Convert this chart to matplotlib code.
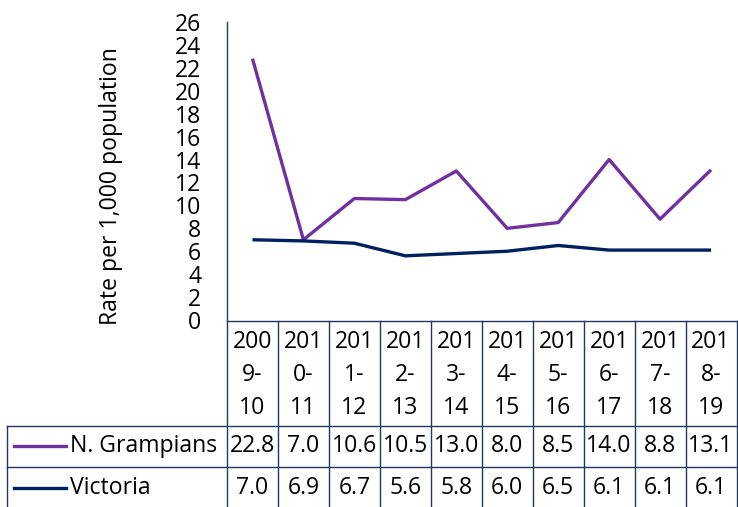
import matplotlib
matplotlib.use("Agg")
from matplotlib import pyplot as plt

# 数据
periods = ["2009-10", "2010-11", "2011-12", "2012-13", "2013-14",
           "2014-15", "2015-16", "2016-17", "2017-18", "2018-19"]
grampians = [22.8, 7.0, 10.6, 10.5, 13.0, 8.0, 8.5, 14.0, 8.8, 13.1]
victoria = [7.0, 6.9, 6.7, 5.6, 5.8, 6.0, 6.5, 6.1, 6.1, 6.1]
series_names = ["N. Grampians", "Victoria"]
y_ticks = list(range(0, 27, 2))

plt.rcParams['font.family'] = ['Open Sans', 'DejaVu Sans']

purple = '#7030A0'
navy = '#002060'
border = '#1F3864'
fs = 16.6

W, H = 738, 507
fig = plt.figure(figsize=(W / 100, H / 100), dpi=100)

# 折线图区域
x0, x1, ytop, ybot = 227, 736.5, 22, 320
ax = fig.add_axes([x0 / W, 1 - ybot / H, (x1 - x0) / W, (ybot - ytop) / H])
xs = list(range(len(periods)))
ax.plot(xs, grampians, color=purple, lw=2.4, solid_capstyle='butt')
ax.plot(xs, victoria, color=navy, lw=2.4, solid_capstyle='butt')
ax.set_xlim(-0.5, len(periods) - 0.5)
ax.set_ylim(0, 26)
ax.set_yticks(y_ticks)
ax.set_yticklabels([str(t) for t in y_ticks], fontsize=fs)
ax.tick_params(axis='y', length=0, pad=18.5)
ax.set_xticks([])
for s in ['top', 'right', 'bottom']:
    ax.spines[s].set_visible(False)
ax.spines['left'].set_color(border)
ax.spines['left'].set_linewidth(1)
ax.set_ylabel("Rate per 1,000 population", fontsize=fs)
ax.yaxis.set_label_coords(-0.204, 0.45)

# 数据表
tb = fig.add_axes([0, 0, 1, 1])
tb.set_xlim(0, W)
tb.set_ylim(H, 0)
tb.axis('off')
n = len(periods)
colw = (x1 - x0) / n
r0, r1, r2, r3 = 321, 426, 467, 507
lk = dict(color=border, lw=1)
tb.plot([x0, x1], [r0, r0], **lk)
tb.plot([7, x1], [r1, r1], **lk)
tb.plot([7, x1], [r2, r2], **lk)
tb.plot([7, 7], [r1, r3], **lk)
for i in range(n + 1):
    xc = x0 + i * colw
    tb.plot([xc, xc], [r0, r3], **lk)

for i, p in enumerate(periods):
    xc = x0 + (i + 0.5) * colw
    for j, part in enumerate([p[:3], p[3:5], p[5:]]):
        tb.text(xc, 342 + j * 33, part, ha='center', va='center', fontsize=fs)
    tb.text(xc, 446, f"{grampians[i]:.1f}", ha='center', va='center', fontsize=fs)
    tb.text(xc, 488, f"{victoria[i]:.1f}", ha='center', va='center', fontsize=fs)

for yc, name, col in [(446, series_names[0], purple), (488, series_names[1], navy)]:
    tb.plot([14, 66], [yc, yc], color=col, lw=2.4)
    tb.text(70, yc, name, ha='left', va='center', fontsize=fs)

fig.savefig("out.png", dpi=100)
